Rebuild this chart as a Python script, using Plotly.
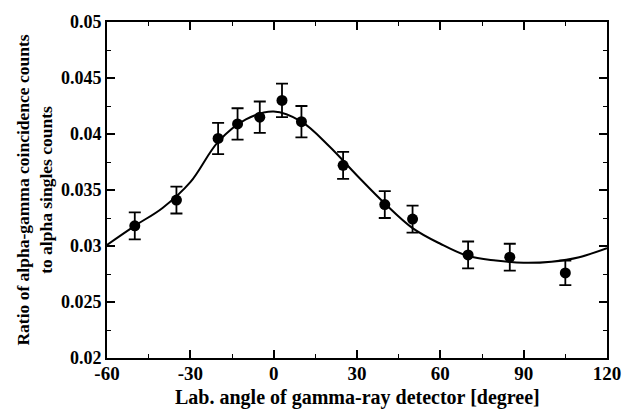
import plotly.graph_objects as go

# Measured coincidence/singles ratios versus detector angle
angles = [-50, -35, -20, -13, -5, 3, 10, 25, 40, 50, 70, 85, 105]
ratios = [0.0318, 0.0341, 0.0396, 0.0409, 0.0415, 0.0430, 0.0411,
          0.0372, 0.0337, 0.0324, 0.0292, 0.0290, 0.0276]
errors = [0.0012, 0.0012, 0.0014, 0.0014, 0.0014, 0.0015, 0.0014,
          0.0012, 0.0012, 0.0012, 0.0012, 0.0012, 0.0011]

# Fitted angular-correlation curve, sampled every 10 degrees
fit_angles = [-60, -50, -40, -30, -20, -10, 0, 10, 20, 30, 40, 50, 60,
              70, 80, 90, 100, 110, 120]
fit_ratios = [0.0301, 0.0318, 0.0334, 0.0357, 0.0393, 0.0413, 0.0420,
              0.0411, 0.0389, 0.0363, 0.0338, 0.0316, 0.0302, 0.0291,
              0.0287, 0.0285, 0.0286, 0.0290, 0.0298]

x_ticks = [-60, -30, 0, 30, 60, 90, 120]
x_tick_text = ["-60", "-30", "0", "30", "60", "90", "120"]
y_ticks = [0.02, 0.025, 0.03, 0.035, 0.04, 0.045, 0.05]
y_tick_text = ["0.02", "0.025", "0.03", "0.035", "0.04", "0.045", "0.05"]

FONT = "Liberation Serif"

fig = go.Figure()
fig.add_trace(go.Scatter(
    x=fit_angles, y=fit_ratios, mode="lines",
    line=dict(color="black", width=2, shape="spline", smoothing=1.0),
    hoverinfo="skip", showlegend=False,
))
fig.add_trace(go.Scatter(
    x=angles, y=ratios, mode="markers",
    marker=dict(color="black", size=11),
    error_y=dict(type="data", array=errors, visible=True,
                 color="black", thickness=1.8, width=6),
    showlegend=False,
))

axis_common = dict(
    showline=True, linecolor="black", linewidth=2, mirror="allticks",
    ticks="inside", ticklen=8, tickwidth=1.5, tickcolor="black",
    showgrid=False, zeroline=False, automargin=False,
)

fig.update_xaxes(
    range=[-60, 120], tickvals=x_ticks, ticktext=x_tick_text,
    tickfont=dict(family=FONT, size=19, color="black", weight="bold"),
    ticklabelstandoff=-3,
    minor=dict(ticks="inside", ticklen=4, dtick=15, tickcolor="black", tickwidth=1),
    **axis_common,
)
fig.update_yaxes(
    range=[0.02, 0.05], tickvals=y_ticks, ticktext=y_tick_text,
    tickfont=dict(family=FONT, size=18, color="black", weight="bold"),
    minor=dict(ticks="inside", ticklen=4, dtick=0.0025, tickcolor="black", tickwidth=1),
    title=dict(text="Ratio of alpha-gamma coincidence counts<br>to alpha singles counts",
               font=dict(family=FONT, size=17.5, color="black", weight="bold"),
               standoff=4),
    **axis_common,
)

# x-axis title placed below the tick labels
fig.add_annotation(
    text="Lab. angle of gamma-ray detector [degree]",
    xref="paper", yref="paper", x=0.5, y=-0.117,
    xanchor="center", yanchor="middle", showarrow=False,
    font=dict(family=FONT, size=20, color="black", weight="bold"),
)

fig.update_layout(
    width=625, height=410,
    margin=dict(l=107, r=18, t=22, b=52),
    paper_bgcolor="white", plot_bgcolor="white",
)

fig.write_html("out.html")
